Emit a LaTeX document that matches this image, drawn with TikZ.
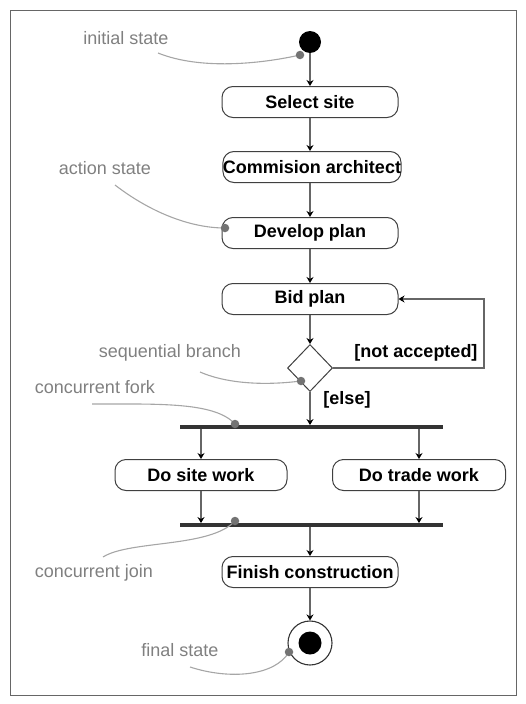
\documentclass[tikz,border=0pt]{standalone}
\usepackage{fontspec}
\setmainfont{Liberation Sans}
\usetikzlibrary{arrows.meta,shapes.geometric}

\begin{document}
\begin{tikzpicture}[x=1pt,y=-1pt,
  action/.style={draw=black!75, line width=1pt, rounded corners=11pt, fill=white,
    minimum width=176pt, minimum height=31pt, inner sep=0pt,
    font=\fontsize{18}{20}\selectfont\bfseries},
  flow/.style={draw=black!60, line width=1.1pt, -{Stealth[length=6pt,width=7pt,black]}},
  guard/.style={font=\fontsize{18}{20}\selectfont\bfseries, inner sep=0pt},
  note/.style={text=black!50, font=\fontsize{18}{20}\selectfont, inner sep=0pt},
  lead/.style={draw=black!35, line width=1.1pt},
  pin/.style={circle, fill=black!55, inner sep=0pt, minimum size=8.5pt},
  syncbar/.style={fill=black!80, minimum width=263pt, minimum height=3.5pt, inner sep=0pt}
]
\useasboundingbox (0,0) rectangle (526,704);
\draw[black!60, line width=1pt] (10,10) rectangle (516,695);

% states
\node[circle, fill=black, minimum size=22pt, inner sep=0pt] (init) at (310,42) {};
\node[action] (select) at (310,102) {Select site};
\node[action] (arch) at (312,167) {Commision architect};
\node[action] (plan) at (310,233) {Develop plan};
\node[action] (bid) at (310,299) {Bid plan};
\node[diamond, draw=black!75, line width=1pt, fill=white, inner sep=0pt,
      minimum width=45pt, minimum height=47pt] (branch) at (310,368) {};
\node[syncbar] (fork) at (311.5,427) {};
\node[action, minimum width=172pt] (site) at (201,475) {Do site work};
\node[action, minimum width=173pt] (trade) at (419,475) {Do trade work};
\node[syncbar] (join) at (311.5,525) {};
\node[action] (finish) at (310,572) {Finish construction};
\node[circle, draw=black!80, line width=1.1pt, fill=white, minimum size=44pt, inner sep=0pt] (final) at (310,643) {};
\node[circle, fill=black, minimum size=23pt, inner sep=0pt] (finaldot) at (final) {};

% transitions
\draw[flow] (init) -- (select);
\draw[flow] (select) -- (select |- arch.north);
\draw[flow] (select |- arch.south) -- (plan);
\draw[flow] (plan) -- (bid);
\draw[flow] (bid) -- (branch);
\coordinate (loop) at (484,368);
\draw[flow] (branch.east) -- (loop) |- (bid.east);
\draw[flow] (branch) -- (branch |- fork.north);
\draw[flow] (fork.south -| site.north) -- (site);
\draw[flow] (fork.south -| trade.north) -- (trade);
\draw[flow] (site) -- (site |- join.north);
\draw[flow] (trade) -- (trade |- join.north);
\draw[flow] (join.south -| finish.north) -- (finish);
\draw[flow] (finish) -- (final);

% guards
\node[guard] (notacc) at (416,353) {[not accepted]};
\node[guard] (else) at (347,400) {[else]};

% annotations
\node[note] (t1) at (126,38) {initial state};
\node[note] (t2) at (105,168) {action state};
\node[note] (t3) at (170,353) {sequential branch};
\node[note] (t4) at (95,387) {concurrent fork};
\node[note] (t5) at (94,573) {concurrent join};
\node[note] (t6) at (180,650) {final state};

\coordinate (c1) at (158,53);
\coordinate (c2) at (115,185);
\coordinate (c3) at (200,372);
\coordinate (c4) at (92,404);
\coordinate (c5) at (103,557);
\coordinate (c6) at (190,667);
\coordinate (e1) at (300,55);
\coordinate (e2) at (225,228);
\coordinate (e3) at (301,381);
\coordinate (e4) at (235,424);
\coordinate (e5) at (235,521);
\coordinate (e6) at (289,652);

\draw[lead] (c1) .. controls (200,70) and (260,64) .. (e1);
\draw[lead] (c2) .. controls (150,212) and (190,228) .. (e2);
\draw[lead] (c3) .. controls (230,385) and (270,385) .. (e3);
\draw[lead] (c4) .. controls (160,404) and (215,402) .. (e4);
\draw[lead] (c5) .. controls (130,540) and (210,548) .. (e5);
\draw[lead] (c6) .. controls (230,680) and (275,676) .. (e6);

\node[pin] (p1) at (e1) {};
\node[pin] (p2) at (e2) {};
\node[pin] (p3) at (e3) {};
\node[pin] (p4) at (e4) {};
\node[pin] (p5) at (e5) {};
\node[pin] (p6) at (e6) {};
\end{tikzpicture}
\end{document}
